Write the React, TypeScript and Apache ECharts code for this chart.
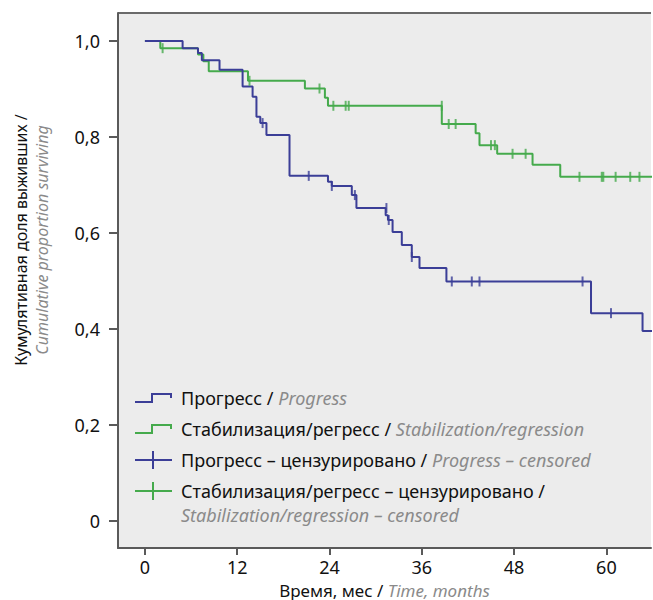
import React, { useEffect, useRef } from "react";
import * as echarts from "echarts";

// Kaplan–Meier: Progress (blue)
const progressTimes = [0, 4.9, 6.9, 7.4, 9.7, 12.7, 14.0, 14.5, 15.0, 15.8, 18.8, 23.8, 24.3, 26.9, 27.5, 31.3, 31.6, 32.2, 33.4, 34.7, 35.7, 39.2, 58.0, 64.7, 66];
const progressSurv = [1.0, 0.985, 0.975, 0.96, 0.94, 0.905, 0.884, 0.842, 0.829, 0.804, 0.719, 0.707, 0.698, 0.679, 0.652, 0.637, 0.627, 0.602, 0.575, 0.55, 0.527, 0.499, 0.433, 0.396, 0.396];
const progressCensorTimes = [15.3, 21.3, 24.3, 27.3, 31.4, 31.7, 34.7, 39.9, 42.5, 43.5, 56.9, 60.6];
const progressCensorSurv = [0.829, 0.719, 0.698, 0.679, 0.652, 0.627, 0.55, 0.499, 0.499, 0.499, 0.499, 0.433];

// Stabilization/regression (green)
const stabTimes = [0, 2.0, 6.9, 7.6, 8.3, 13.4, 20.8, 23.4, 23.8, 38.6, 43.0, 43.5, 45.8, 50.4, 54.0, 66];
const stabSurv = [1.0, 0.985, 0.972, 0.958, 0.937, 0.917, 0.901, 0.882, 0.865, 0.827, 0.808, 0.783, 0.765, 0.742, 0.717, 0.717];
const stabCensorTimes = [2.3, 13.6, 22.7, 24.5, 26.1, 26.5, 38.6, 39.5, 40.4, 45.0, 45.5, 47.8, 49.5, 56.5, 59.4, 59.6, 61.2, 63.1, 64.3];
const stabCensorSurv = [0.985, 0.917, 0.901, 0.865, 0.865, 0.865, 0.865, 0.827, 0.827, 0.783, 0.783, 0.765, 0.765, 0.717, 0.717, 0.717, 0.717, 0.717, 0.717];

const xTicks = [0, 12, 24, 36, 48, 60];
const yTicks = [0, 0.2, 0.4, 0.6, 0.8, 1.0];

const BLUE = "#3b3e97";
const GREEN = "#45aa4c";
const GRAY_TXT = "#8a8a8a";
const FONT = "Noto Sans";
const FS = 18;

const zip = (a: number[], b: number[]) => a.map((v, i) => [v, b[i]]);

export default function App() {
  const ref = useRef<HTMLDivElement>(null);
  useEffect(() => {
    if (!ref.current) return;
    const chart = echarts.init(ref.current, null, { renderer: "svg" });
    const richA = { fill: "#111", color: "#111", fontSize: FS, fontFamily: FONT };
    const richB = { fill: GRAY_TXT, color: GRAY_TXT, fontSize: FS, fontFamily: FONT, fontStyle: "italic" };
    const nameA = { color: "#111", fontSize: 17, fontFamily: FONT, lineHeight: 19 };
    const nameB = { color: GRAY_TXT, fontSize: 17, fontFamily: FONT, fontStyle: "italic", lineHeight: 19 };
    const legendRow = (y: number, a: string, b: string) => ({
      type: "text",
      x: 181,
      y,
      style: {
        text: (a ? `{a|${a}}` : "") + (b ? `{b|${b}}` : ""),
        verticalAlign: "middle",
        fontSize: FS,
        fontFamily: FONT,
        rich: { a: richA, b: richB },
      },
    });
    chart.setOption({
      animation: false,
      textStyle: { fontFamily: FONT },
      grid: {
        left: 118,
        right: 2,
        top: 13,
        bottom: 52,
        outerBoundsMode: "none",
        containLabel: false,
        show: true,
        backgroundColor: "#ececec",
        borderWidth: 0,
      },
      xAxis: {
        type: "value",
        min: -3.5,
        max: 65.8,
        name: "{a|Время, мес / }{b|Time, months}",
        nameLocation: "middle",
        nameGap: 26,
        nameTextStyle: { lineHeight: 19, rich: { a: nameA, b: nameB } },
        axisLine: { show: true, onZero: false, lineStyle: { color: "#5a5a5a", width: 2 } },
        axisTick: { show: true, customValues: xTicks, length: 7, lineStyle: { color: "#5a5a5a", width: 2 } },
        axisLabel: { customValues: xTicks, margin: 10, color: "#111", fontSize: FS, fontFamily: FONT },
        splitLine: { show: false },
      },
      yAxis: {
        type: "value",
        min: -0.05625,
        max: 1.0583,
        axisLine: { show: true, onZero: false, lineStyle: { color: "#5a5a5a", width: 2 } },
        axisTick: { show: true, customValues: yTicks, length: 9, lineStyle: { color: "#5a5a5a", width: 2 } },
        axisLabel: {
          customValues: yTicks,
          margin: 18,
          color: "#111",
          fontSize: FS,
          fontFamily: FONT,
          formatter: (v: number) => (Math.abs(v) < 1e-9 ? "0" : v.toFixed(1).replace(".", ",")),
        },
        splitLine: { show: false },
      },
      graphic: [
        { type: "line", shape: { x1: 118, y1: 13, x2: 651, y2: 13 }, style: { stroke: "#6a6a6a", lineWidth: 2 } },
        {
          type: "text",
          x: 21,
          y: 240,
          rotation: Math.PI / 2,
          style: { text: "Кумулятивная доля выживших /", align: "center", verticalAlign: "middle", fill: "#111", fontSize: 16, fontFamily: FONT },
        },
        {
          type: "text",
          x: 42,
          y: 240,
          rotation: Math.PI / 2,
          style: { text: "Cumulative proportion surviving", align: "center", verticalAlign: "middle", fill: GRAY_TXT, fontSize: 16, fontFamily: FONT, fontStyle: "italic" },
        },
        { type: "polyline", shape: { points: [[135, 402], [152, 402], [152, 394], [171, 394], [171, 398]] }, style: { stroke: BLUE, lineWidth: 2, fill: "none" } },
        legendRow(398, "Прогресс / ", "Progress"),
        { type: "polyline", shape: { points: [[135, 433], [152, 433], [152, 425], [171, 425], [171, 429]] }, style: { stroke: GREEN, lineWidth: 2, fill: "none" } },
        legendRow(429, "Стабилизация/регресс / ", "Stabilization/regression"),
        { type: "line", shape: { x1: 135, y1: 460, x2: 172, y2: 460 }, style: { stroke: BLUE, lineWidth: 2 } },
        { type: "line", shape: { x1: 153, y1: 451, x2: 153, y2: 469 }, style: { stroke: BLUE, lineWidth: 2 } },
        legendRow(460, "Прогресс – цензурировано / ", "Progress – censored"),
        { type: "line", shape: { x1: 135, y1: 491, x2: 172, y2: 491 }, style: { stroke: GREEN, lineWidth: 2 } },
        { type: "line", shape: { x1: 153, y1: 482, x2: 153, y2: 500 }, style: { stroke: GREEN, lineWidth: 2 } },
        legendRow(491, "Стабилизация/регресс – цензурировано / ", ""),
        legendRow(515, "", "Stabilization/regression – censored"),
      ],
      series: [
        {
          name: "Прогресс / Progress",
          type: "line",
          step: "end",
          data: zip(progressTimes, progressSurv),
          showSymbol: false,
          lineStyle: { color: BLUE, width: 2 },
          itemStyle: { color: BLUE },
          z: 3,
        },
        {
          name: "Стабилизация/регресс / Stabilization/regression",
          type: "line",
          step: "end",
          data: zip(stabTimes, stabSurv),
          showSymbol: false,
          lineStyle: { color: GREEN, width: 2 },
          itemStyle: { color: GREEN },
          z: 2,
        },
        {
          name: "Прогресс – цензурировано / Progress – censored",
          type: "scatter",
          data: zip(progressCensorTimes, progressCensorSurv),
          symbol: "rect",
          symbolSize: [2, 10],
          itemStyle: { color: BLUE },
          z: 4,
        },
        {
          name: "Стабилизация/регресс – цензурировано / Stabilization/regression – censored",
          type: "scatter",
          data: zip(stabCensorTimes, stabCensorSurv),
          symbol: "rect",
          symbolSize: [2, 10],
          itemStyle: { color: GREEN },
          z: 4,
        },
      ],
    });
    return () => chart.dispose();
  }, []);
  return <div ref={ref} style={{ width: 653, height: 600, position: "absolute", left: 0, top: 0 }} />;
}
